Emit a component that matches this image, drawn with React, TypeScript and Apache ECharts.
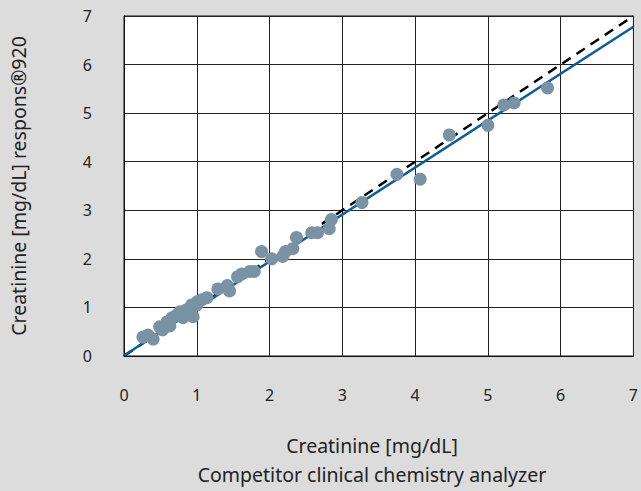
import React, { useEffect, useRef } from "react";
import * as echarts from "echarts";

const xValues = [0.26, 0.40, 0.33, 0.49, 0.53, 0.59, 0.66, 0.63, 0.73, 0.77, 0.81, 0.86, 0.93, 0.95, 1.00, 1.07, 1.14, 1.01, 0.84, 1.29, 1.45, 1.42, 1.56, 1.62, 1.73, 1.79, 1.89, 2.03, 2.18, 2.22, 2.32, 2.37, 2.58, 2.66, 2.82, 2.85, 3.27, 3.75, 4.07, 4.47, 5.00, 5.22, 5.36, 5.82];
const yValues = [0.39, 0.35, 0.43, 0.60, 0.54, 0.70, 0.79, 0.62, 0.85, 0.91, 0.79, 0.95, 1.05, 0.81, 1.05, 1.16, 1.20, 1.12, 0.89, 1.38, 1.34, 1.45, 1.63, 1.69, 1.74, 1.74, 2.15, 2.00, 2.05, 2.15, 2.21, 2.44, 2.54, 2.54, 2.62, 2.81, 3.16, 3.74, 3.64, 4.55, 4.75, 5.17, 5.21, 5.52];
const identityLine = [[0, 0], [7, 7]];
const regressionLine = [[0, 0.01], [7, 6.78]];
const tickLabels = ["0", "1", "2", "3", "4", "5", "6", "7"];
const xTitle = ["Creatinine [mg/dL]", "Competitor clinical chemistry analyzer"];
const yTitle = "Creatinine [mg/dL] respons®920";

const FONT = "Noto Sans";

export default function App() {
  const ref = useRef<HTMLDivElement>(null);
  useEffect(() => {
    if (!ref.current) return;
    const chart = echarts.init(ref.current, undefined, { renderer: "svg" });
    const points = xValues.map((x, i) => [x, yValues[i]]);
    chart.setOption({
      animation: false,
      backgroundColor: "#dcdcdd",
      textStyle: { fontFamily: FONT },
      grid: {
        left: 124,
        right: 5,
        top: 16,
        bottom: 135,
        show: true,
        backgroundColor: "#ffffff",
        borderColor: "#111",
        borderWidth: 1,
      },
      xAxis: {
        type: "value",
        min: 0,
        max: 7,
        interval: 1,
        axisLine: { show: true, lineStyle: { color: "#111", width: 1 } },
        axisTick: { show: false },
        splitLine: { show: true, lineStyle: { color: "#222", width: 1 } },
        axisLabel: {
          margin: 31,
          fontSize: 16,
          color: "#222",
          fontFamily: FONT,
          formatter: (v: number) => tickLabels[Math.round(v)] ?? "",
        },
      },
      yAxis: {
        type: "value",
        min: 0,
        max: 7,
        interval: 1,
        axisLine: { show: true, lineStyle: { color: "#111", width: 1 } },
        axisTick: { show: false },
        splitLine: { show: true, lineStyle: { color: "#222", width: 1 } },
        axisLabel: {
          margin: 32,
          fontSize: 16,
          color: "#222",
          fontFamily: FONT,
          formatter: (v: number) => tickLabels[Math.round(v)] ?? "",
        },
      },
      graphic: [
        {
          type: "text",
          x: 372,
          y: 445,
          style: {
            text: xTitle[0],
            fontSize: 19.5,
            fontFamily: FONT,
            fill: "#222",
            textAlign: "center",
            textVerticalAlign: "middle",
          },
        },
        {
          type: "text",
          x: 372,
          y: 474,
          style: {
            text: xTitle[1],
            fontSize: 19.5,
            fontFamily: FONT,
            fill: "#222",
            textAlign: "center",
            textVerticalAlign: "middle",
          },
        },
        {
          type: "text",
          x: 18,
          y: 186,
          rotation: Math.PI / 2,
          style: {
            text: yTitle,
            fontSize: 19.5,
            fontFamily: FONT,
            fill: "#222",
            textAlign: "center",
            textVerticalAlign: "middle",
          },
        },
      ],
      series: [
        {
          type: "line",
          data: identityLine,
          symbol: "none",
          z: 2,
          lineStyle: { color: "#000", width: 2.5, type: [10, 7] },
        },
        {
          type: "line",
          data: regressionLine,
          symbol: "none",
          z: 3,
          lineStyle: { color: "#0b5d9e", width: 2.5 },
        },
        {
          type: "scatter",
          data: points,
          symbol: "circle",
          symbolSize: 13,
          z: 4,
          itemStyle: { color: "#7a93a4", opacity: 1 },
        },
      ],
    });
    return () => chart.dispose();
  }, []);
  return (
    <div
      ref={ref}
      style={{ position: "fixed", left: 0, top: 0, width: 641, height: 491 }}
    />
  );
}
